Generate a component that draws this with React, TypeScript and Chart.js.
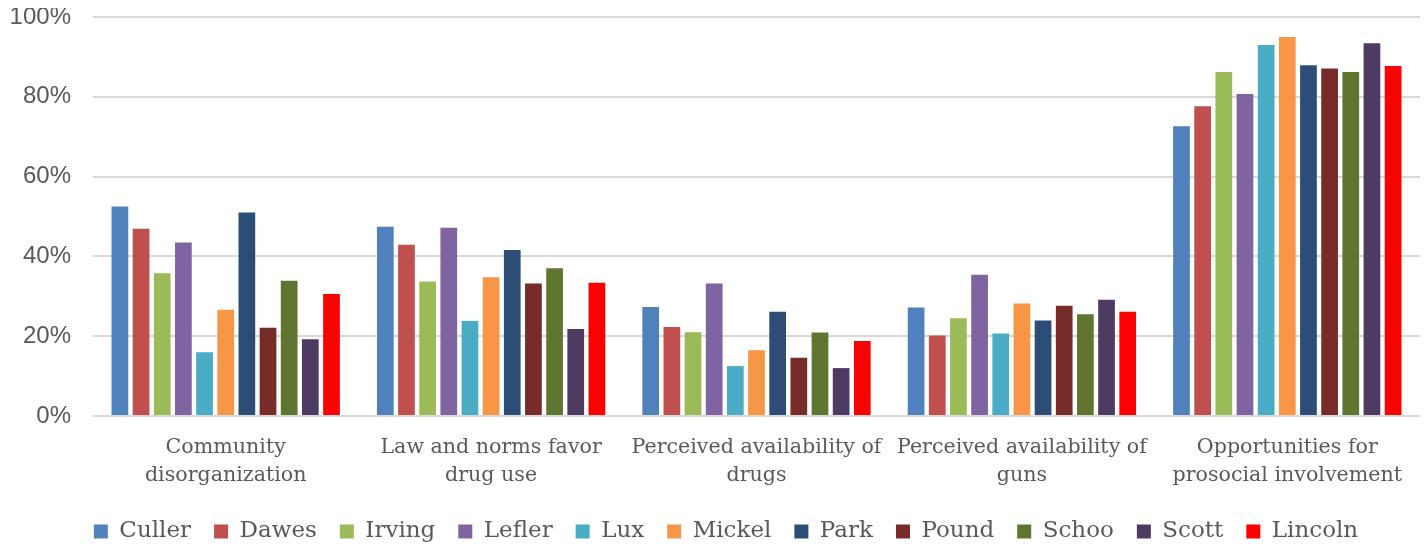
import React, { useEffect, useRef } from "react";
import { Chart, registerables } from "chart.js";

Chart.register(...registerables);

const categories: string[][] = [
  ["Community", "disorganization"],
  ["Law and norms favor", "drug use"],
  ["Perceived availability of", "drugs"],
  ["Perceived availability of", "guns"],
  ["Opportunities for", "prosocial involvement"],
];

const schools = ["Culler", "Dawes", "Irving", "Lefler", "Lux", "Mickel", "Park", "Pound", "Schoo", "Scott", "Lincoln"];

const colors = ["#4F81BD", "#C0504D", "#9BBB59", "#8064A2", "#4BACC6", "#F79646", "#2C4D75", "#772C2A", "#5F7530", "#4D3B62", "#FF0000"];

const culler = [52.5, 47.4, 27.3, 27.2, 72.6];
const dawes = [46.9, 42.9, 22.3, 20.2, 77.6];
const irving = [35.8, 33.7, 21.0, 24.5, 86.2];
const lefler = [43.5, 47.2, 33.2, 35.4, 80.7];
const lux = [16.0, 23.8, 12.5, 20.7, 93.0];
const mickel = [26.6, 34.8, 16.5, 28.2, 95.0];
const park = [51.0, 41.6, 26.1, 23.9, 87.9];
const pound = [22.1, 33.2, 14.6, 27.6, 87.1];
const schoo = [33.9, 37.0, 20.9, 25.5, 86.2];
const scott = [19.2, 21.8, 12.0, 29.1, 93.4];
const lincoln = [30.6, 33.4, 18.8, 26.1, 87.7];

const seriesValues = [culler, dawes, irving, lefler, lux, mickel, park, pound, schoo, scott, lincoln];

const yTicks = [0, 20, 40, 60, 80, 100];

const legendShift = {
  id: "legendShift",
  afterLayout(chart: any) {
    const lg = chart.legend;
    if (lg) {
      lg.left += 24;
      lg.top += 9;
      lg.bottom += 9;
    }
  },
};

export default function App() {
  const canvasRef = useRef<HTMLCanvasElement | null>(null);

  useEffect(() => {
    if (!canvasRef.current) return;
    const chart = new Chart(canvasRef.current, {
      type: "bar",
      data: {
        labels: categories,
        datasets: schools.map((name, i) => ({
          label: name,
          data: seriesValues[i],
          backgroundColor: colors[i],
          borderWidth: 0,
          categoryPercentage: 0.877,
          barPercentage: 0.79,
        })),
      },
      plugins: [legendShift],
      options: {
        animation: false,
        responsive: true,
        maintainAspectRatio: false,
        layout: { padding: { top: 9, right: 0, left: 0, bottom: 0 } },
        plugins: {
          tooltip: { enabled: false },
          legend: {
            position: "bottom",
            labels: {
              boxWidth: 14,
              boxHeight: 14,
              padding: 23,
              color: "#595959",
              font: { family: "'DejaVu Serif'", size: 23 },
            },
          },
        },
        scales: {
          x: {
            grid: { display: false, drawTicks: false },
            border: { display: false },
            afterFit: (axis: any) => {
              axis.paddingLeft = 0;
              axis.paddingRight = 0;
              axis.height -= 20;
            },
            ticks: {
              color: "#595959",
              padding: 18,
              maxRotation: 0,
              autoSkip: false,
              font: { family: "'DejaVu Serif'", size: 20.6, lineHeight: 1.36 },
            },
          },
          y: {
            min: 0,
            max: 100,
            afterBuildTicks: (axis: any) => {
              axis.ticks = yTicks.map((v) => ({ value: v }));
            },
            afterFit: (axis: any) => {
              axis.paddingTop = 0;
              axis.paddingBottom = 0;
              axis.width = 85;
            },
            grid: { color: "#d9d9d9", lineWidth: 2, drawTicks: false },
            border: { display: false },
            ticks: {
              color: "#595959",
              padding: 22,
              font: { family: "'Liberation Sans'", size: 24 },
              callback: (v: any) => v + "%",
            },
          },
        },
      },
    });
    return () => chart.destroy();
  }, []);

  return (
    <div style={{ width: 1412, height: 536, position: "relative" }}>
      <canvas ref={canvasRef} />
    </div>
  );
}
